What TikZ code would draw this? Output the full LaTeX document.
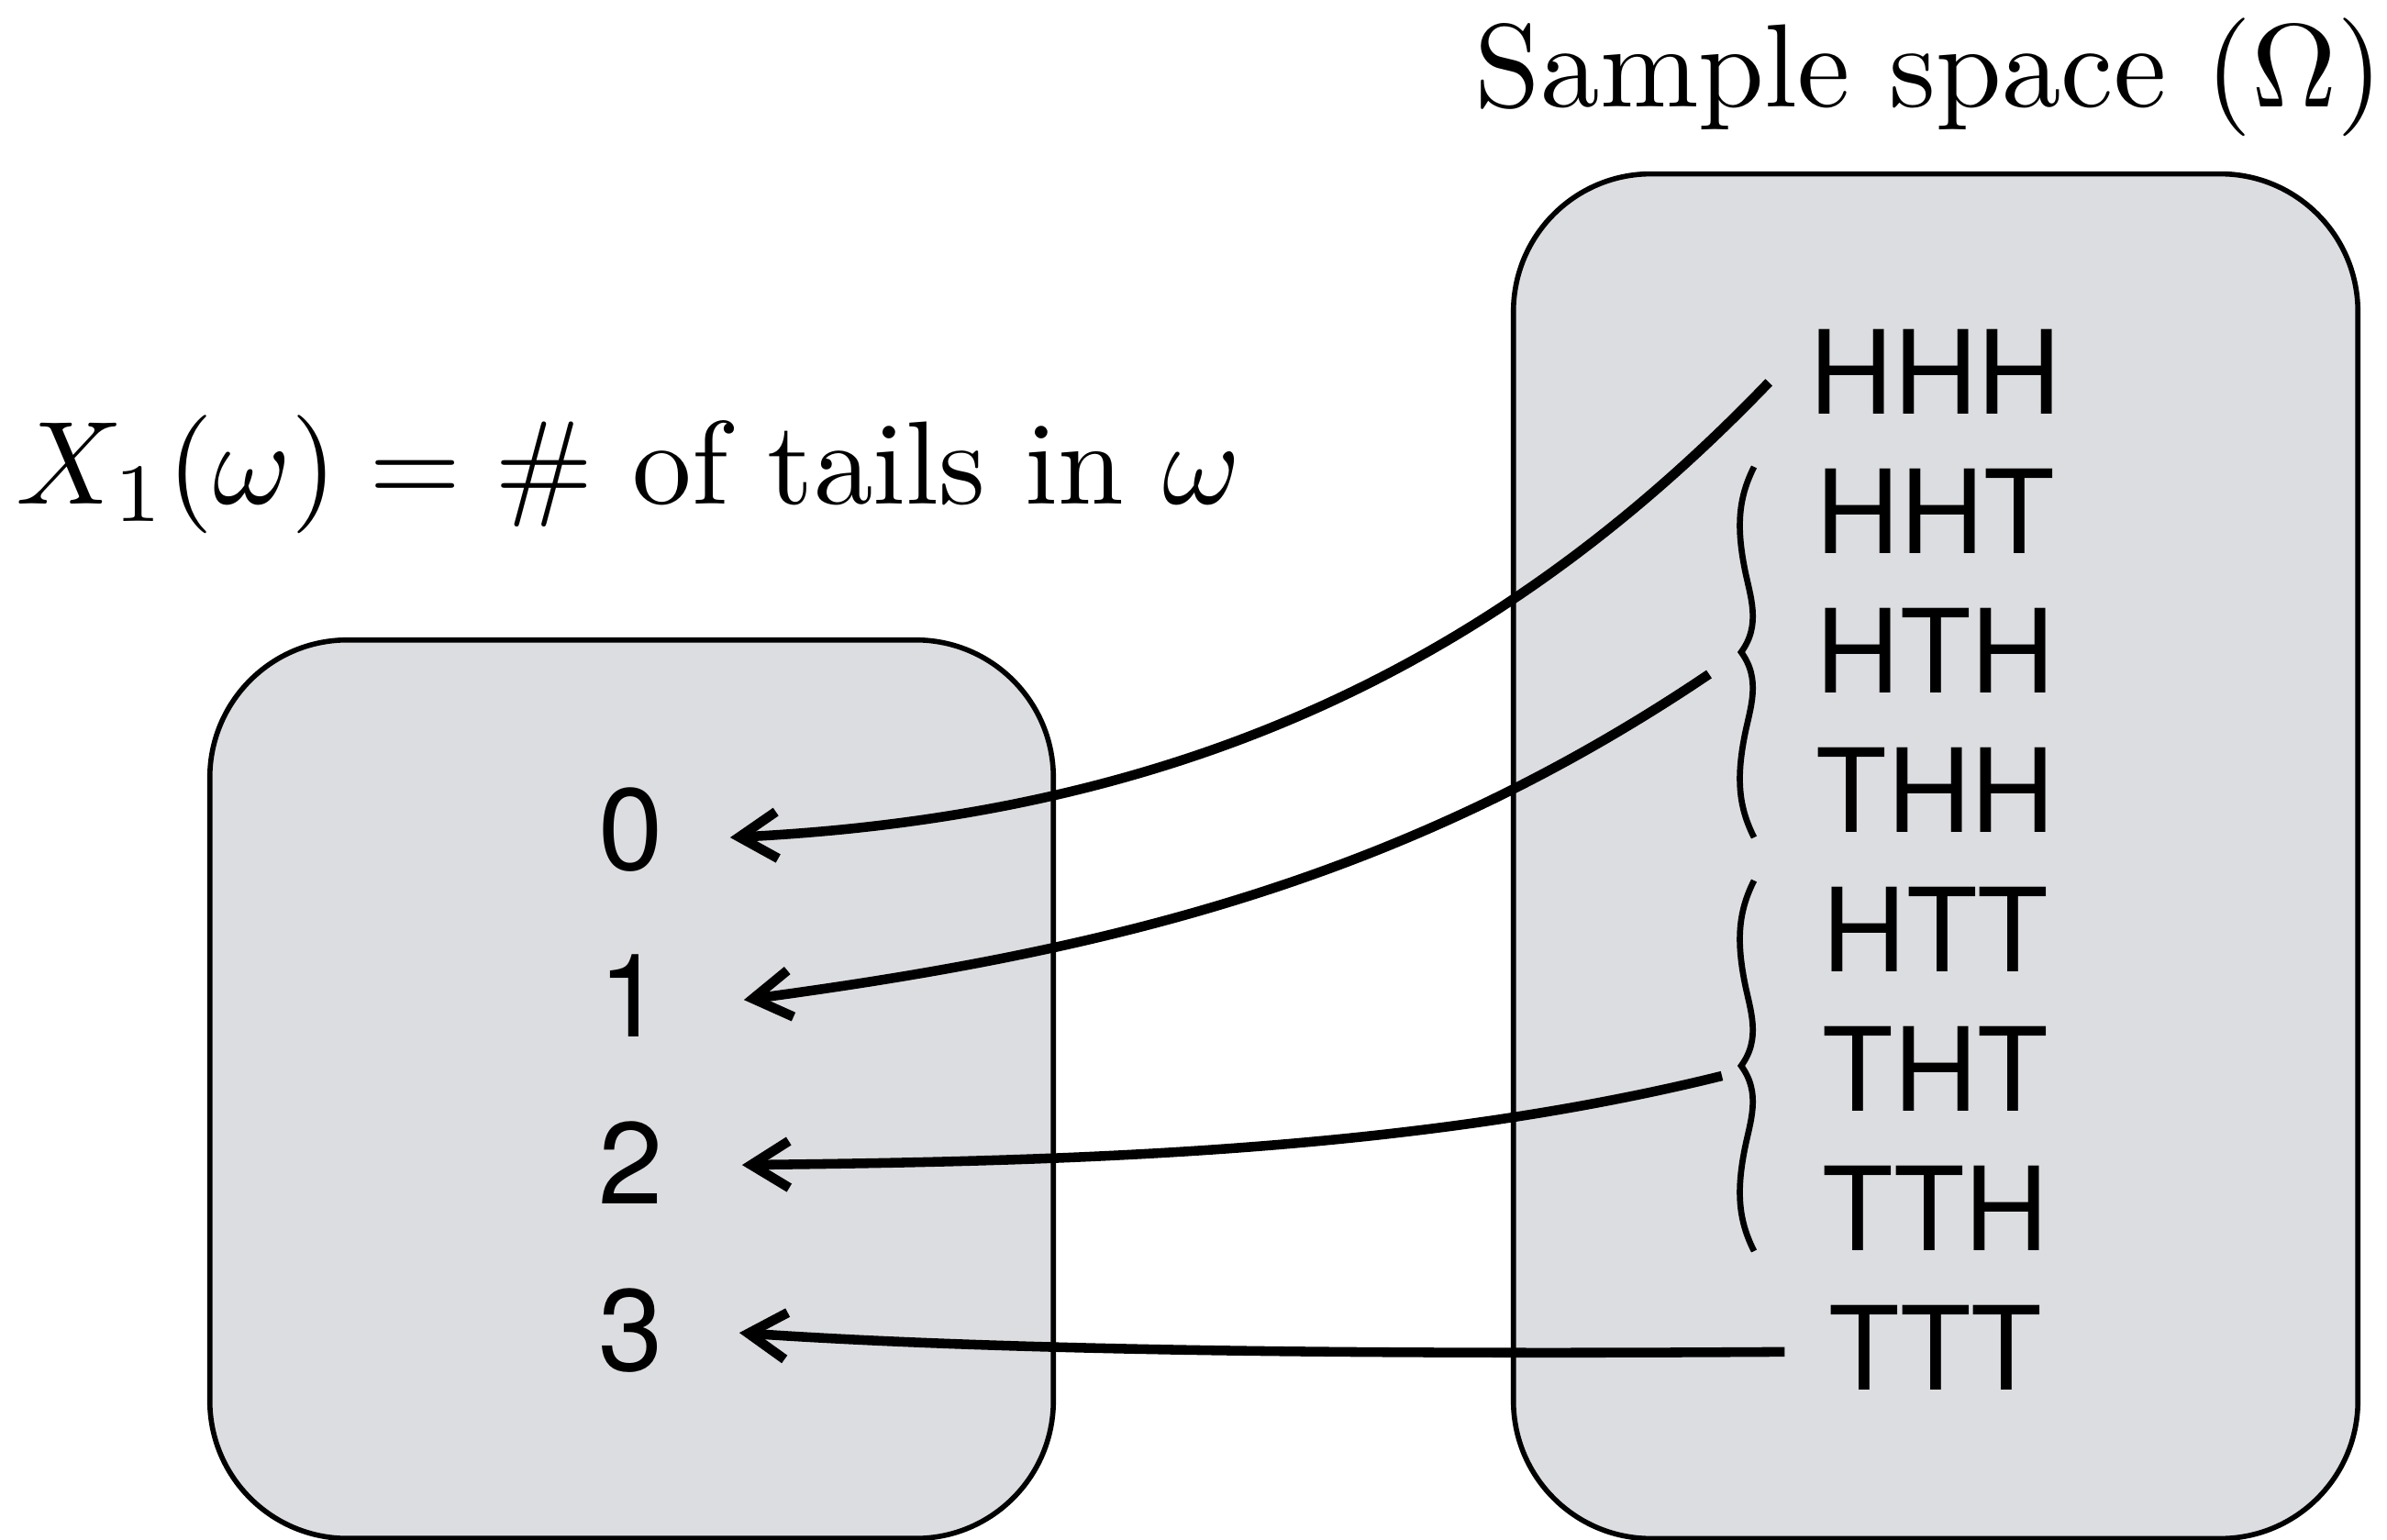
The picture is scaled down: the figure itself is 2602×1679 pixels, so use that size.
\documentclass[tikz,border=0pt]{standalone}
\usepackage{fontspec}
\newfontfamily\hv{TeX Gyre Heros}
\usetikzlibrary{arrows.meta,calc}
\definecolor{boxgray}{RGB}{220,221,224}
\begin{document}
\begin{tikzpicture}[x=0.01cm, y=-0.01cm,
  box/.style={draw=black, line width=1.6pt, fill=boxgray, rounded corners=1.5cm, inner sep=0pt},
  outcome/.style={font=\hv\fontsize{36}{40}\selectfont, anchor=base, inner sep=0pt},
  val/.style={font=\hv\fontsize{36}{40}\selectfont, anchor=base, inner sep=0pt},
  lbl/.style={anchor=base, inner sep=0pt},
  arr/.style={line width=3pt, -{Straight Barb[length=11.7pt,width=14.5pt]}},
  brc/.pic={\draw[line width=1.9pt] (14,-202) .. controls (-2,-170) and (-6,-140) .. (4,-90) .. controls (10,-60) and (22,-30) .. (0,0) .. controls (22,30) and (10,60) .. (4,90) .. controls (-6,140) and (-2,170) .. (14,202);}
]
\useasboundingbox (0,0) rectangle (2602,1679);

% boxes
\node[box, minimum width=9.19cm, minimum height=9.79cm] (lbox) at (688.5,1187.5) {};
\node[box, minimum width=9.20cm, minimum height=14.87cm] (rbox) at (2110,933.5) {};

% labels
\node[lbl] (title) at (2103,117) {\scalebox{3.67}{Sample space ($\Omega$)}};
\node[lbl] (xfun) at (685,549) {\scalebox{3.67}{$X_1(\omega) = \mbox{\# of tails in }\omega$}};

% outcomes
\node[outcome] (hhh) at (2110,451) {HHH};
\node[outcome] (hht) at (2110,603) {HHT};
\node[outcome] (hth) at (2110,755) {HTH};
\node[outcome] (thh) at (2110,907) {THH};
\node[outcome] (htt) at (2110,1059) {HTT};
\node[outcome] (tht) at (2110,1211) {THT};
\node[outcome] (tth) at (2110,1363) {TTH};
\node[outcome] (ttt) at (2110,1515) {TTT};

% values
\node[val] (n0) at (688,948) {0};
\node[val] (n1) at (688,1130) {1};
\node[val] (n2) at (688,1312) {2};
\node[val] (n3) at (688,1494) {3};

% braces
\pic (br1) at (1898,711) {brc};
\pic (br2) at (1898,1162) {brc};
\coordinate (s1) at (1863,735);
\coordinate (s2) at (1877,1173);

% arrows
\draw[arr] ($(hhh.west)+(-44,12)$) .. controls +(-290,302) and +(500,-25) .. ($(n0.east)+(72,9)$);
\draw[arr] (s1) .. controls +(-332,224) and +(396,-53) .. ($(n1.east)+(87,5)$);
\draw[arr] (s2) .. controls +(-340,84) and +(350,-4) .. ($(n2.east)+(85,3)$);
\draw[arr] ($(ttt.west)+(-48,5)$) .. controls +(-446,3) and +(295,20) .. ($(n3.east)+(82,3)$);
\end{tikzpicture}
\end{document}
